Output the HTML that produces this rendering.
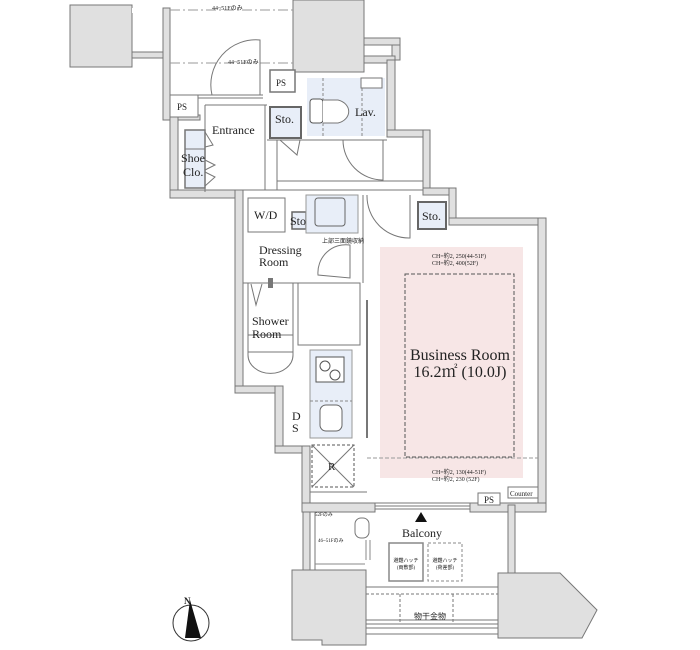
<!DOCTYPE html>
<html><head><meta charset="utf-8"><style>
html,body{margin:0;padding:0;background:#fff;}
svg{display:block;}
text{font-family:"Liberation Serif","Noto Serif CJK SC",serif;fill:#222;}
.s{font-family:"Liberation Serif","Noto Sans CJK JP",serif;}
</style></head><body>
<svg width="700" height="650" viewBox="0 0 700 650" xmlns="http://www.w3.org/2000/svg">
<g fill="#e0e0e0" stroke="#777" stroke-width="1">
<!-- top-left block -->
<rect x="70" y="5" width="62" height="62"/>
<rect x="132" y="52" width="31" height="6"/>
<rect x="132" y="8" width="38" height="5" fill="#fff" stroke="none"/>
<rect x="163" y="8" width="7" height="112"/>
<rect x="170" y="115" width="30" height="5"/>
<!-- left wall -->
<rect x="170" y="115" width="8" height="77"/>
<rect x="170" y="190" width="73" height="8"/>
<rect x="235" y="190" width="8" height="203"/>
<rect x="235" y="386" width="48" height="7"/>
<rect x="275" y="386" width="8" height="67"/>
<rect x="275" y="446" width="35" height="7"/>
<rect x="302" y="446" width="8" height="66"/>
<!-- top middle column -->
<rect x="293" y="0" width="71" height="72"/>
<rect x="364" y="38" width="36" height="7"/>
<rect x="392" y="45" width="8" height="15"/>
<rect x="364" y="56" width="31" height="7"/>
<rect x="387" y="60" width="8" height="77"/>
<rect x="387" y="130" width="43" height="7"/>
<rect x="423" y="130" width="7" height="65"/>
<rect x="423" y="188" width="33" height="7"/>
<rect x="449" y="188" width="7" height="37"/>
<rect x="449" y="218" width="96" height="7"/>
<rect x="538" y="218" width="8" height="294"/>
<!-- bottom wall -->
<rect x="302" y="503" width="73" height="9"/>
<rect x="470" y="503" width="76" height="9"/>
<!-- balcony -->
<rect x="303" y="512" width="7" height="60"/>
<rect x="508" y="505" width="7" height="70"/>
<rect x="310" y="512" width="5" height="60" fill="#fff"/>
<!-- bottom blocks -->
<path d="M292 570 H366 V645 H322 V640 H292 Z"/>
<path d="M498 573 H560 L597 610 L582 638 H498 Z"/>
</g>
<!-- window bottom -->
<rect x="375" y="503" width="95" height="6" fill="#fff" stroke="#777"/>
<line x1="375" y1="506" x2="470" y2="506" stroke="#777"/>
<!-- dashed top lines -->
<g stroke="#999" stroke-width="1" stroke-dasharray="10,3,2,3" fill="none">
<line x1="170" y1="10" x2="293" y2="10"/>
<line x1="170" y1="63" x2="293" y2="63"/>
</g>
<text x="212" y="10" font-size="6" class="s">44~51Fのみ</text>
<text x="228" y="64" font-size="6" class="s">44~51Fのみ</text>
<!-- entrance door -->
<path d="M212 95 A45 45 0 0 1 260 40 V95" fill="none" stroke="#777"/>
<line x1="178" y1="95" x2="263" y2="95" stroke="#777"/>
<line x1="178" y1="98" x2="263" y2="98" stroke="#777"/>
<rect x="270" y="70" width="25" height="22" fill="#fff" stroke="#777" stroke-width="1.5"/>
<text x="276" y="86" font-size="9">PS</text>
<rect x="170" y="95" width="28" height="22" fill="#fff" stroke="#777"/>
<text x="177" y="110" font-size="9">PS</text>
<!-- interior lines -->
<g stroke="#777" fill="none">
<line x1="205" y1="105" x2="205" y2="192"/>
<line x1="205" y1="105" x2="267" y2="105"/>
<line x1="265" y1="105" x2="265" y2="190"/>
<line x1="277" y1="140" x2="277" y2="190"/>
<line x1="267" y1="140" x2="387" y2="140"/>
<line x1="243" y1="190" x2="423" y2="190"/>
<line x1="277" y1="181" x2="423" y2="181"/>
<path d="M343 140 A40 40 0 0 0 383 180 V140"/>
<path d="M280 140 L297 155 L300 140"/>
<path d="M367 195 A42 42 0 0 0 410 238 V195"/>
<line x1="363" y1="195" x2="363" y2="283"/>
<line x1="243" y1="283" x2="298" y2="283"/>
<path d="M318 275 A28 28 0 0 1 350 245 V278 Z"/>
</g>
<!-- shoe closet -->
<rect x="185" y="130" width="20" height="58" fill="#e8eef8" stroke="#777" stroke-width="1.5"/>
<line x1="185" y1="149" x2="205" y2="149" stroke="#777"/>
<path d="M205 132 L213 145 L205 147 M205 160 L215 165 L205 170 M205 172 L215 177 L205 186" fill="none" stroke="#777"/>
<text x="181" y="162" font-size="12">Shoe</text>
<text x="183" y="176" font-size="12">Clo.</text>
<text x="212" y="134" font-size="12">Entrance</text>
<!-- sto -->
<rect x="270" y="107" width="31" height="31" fill="#e8eef8" stroke="#666" stroke-width="2"/>
<text x="275" y="123" font-size="12">Sto.</text>
<!-- lav -->
<rect x="307" y="78" width="78" height="58" fill="#e8eef8"/>
<line x1="323" y1="78" x2="323" y2="136" stroke="#888" stroke-dasharray="3,2"/>
<line x1="362" y1="78" x2="362" y2="136" stroke="#888" stroke-dasharray="3,2"/>
<rect x="361" y="78" width="21" height="10" fill="#fff" stroke="#777"/>
<rect x="310" y="99" width="13" height="24" rx="3" fill="#fff" stroke="#555"/>
<path d="M323 100 H338 A15 12 0 0 1 338 123 H323" fill="#fff" stroke="#777"/>
<text x="355" y="116" font-size="12">Lav.</text>
<!-- W/D -->
<rect x="248" y="198" width="37" height="34" fill="#fff" stroke="#777"/>
<text x="254" y="219" font-size="12">W/D</text>
<rect x="292" y="212" width="14" height="17" fill="#e8eef8" stroke="#666" stroke-width="1.5"/>
<text x="290" y="225" font-size="12">Sto.</text>
<rect x="306" y="195" width="52" height="38" fill="#e8eef8" stroke="#999"/>
<rect x="315" y="198" width="30" height="28" rx="3" fill="#e8eef8" stroke="#666"/>
<text x="322" y="243" font-size="6" class="s">上部三面鏡収納</text>
<rect x="418" y="202" width="28" height="27" fill="#e8eef8" stroke="#666" stroke-width="2"/>
<text x="422" y="220" font-size="12">Sto.</text>
<text x="259" y="254" font-size="12">Dressing</text>
<text x="259" y="266" font-size="12">Room</text>
<!-- shower -->
<rect x="248" y="283" width="45" height="52" fill="#fff" stroke="#777"/>
<path d="M248 355 V335 M293 355 V335 M248 355 A22 18 0 0 0 293 355" fill="none" stroke="#777"/>
<line x1="248" y1="352" x2="293" y2="352" stroke="#777"/>
<path d="M251 284 L256 305 L262 284" fill="none" stroke="#777"/>
<rect x="268" y="278" width="5" height="10" fill="#777"/>
<text x="252" y="325" font-size="12">Shower</text>
<text x="252" y="338" font-size="12">Room</text>
<rect x="298" y="283" width="62" height="62" fill="#fff" stroke="#777"/>
<!-- kitchen -->
<rect x="310" y="350" width="42" height="88" fill="#e8eef8" stroke="#999"/>
<rect x="316" y="357" width="28" height="25" fill="#fff" stroke="#555"/>
<circle cx="325" cy="366" r="5" fill="none" stroke="#555"/>
<circle cx="335" cy="375" r="5" fill="none" stroke="#555"/>
<line x1="310" y1="401" x2="352" y2="401" stroke="#888" stroke-dasharray="3,2"/>
<rect x="320" y="405" width="22" height="26" rx="6" fill="#fff" stroke="#666"/>
<line x1="367" y1="300" x2="367" y2="438" stroke="#777" stroke-width="2"/>
<text x="292" y="420" font-size="12">D</text>
<text x="292" y="432" font-size="12">S</text>
<!-- R -->
<rect x="312" y="445" width="42" height="42" fill="#fff" stroke="#555" stroke-dasharray="3,2"/>
<path d="M312 445 L354 487 M354 445 L312 487" stroke="#777"/>
<text x="328" y="470" font-size="11">R</text>
<line x1="310" y1="492" x2="367" y2="492" stroke="#777"/>
<!-- business room -->
<rect x="380" y="247" width="143" height="231" fill="#f7e6e6"/>
<rect x="405" y="274" width="109" height="183" fill="none" stroke="#555" stroke-dasharray="4,2"/>
<line x1="367" y1="458" x2="538" y2="458" stroke="#999" stroke-dasharray="4,2"/>
<text x="432" y="258" font-size="6" class="s">CH=約2, 250(44-51F)</text>
<text x="432" y="265" font-size="6" class="s">CH=約2, 400(52F)</text>
<text x="460" y="360" font-size="16" text-anchor="middle">Business Room</text>
<text x="460" y="377" font-size="16" text-anchor="middle">16.2㎡ (10.0J)</text>
<text x="432" y="474" font-size="6" class="s">CH=約2, 130(44-51F)</text>
<text x="432" y="481" font-size="6" class="s">CH=約2, 230 (52F)</text>
<rect x="478" y="493" width="22" height="12" fill="#fff" stroke="#777"/>
<text x="484" y="503" font-size="9">PS</text>
<rect x="508" y="487" width="30" height="11" fill="#fff" stroke="#777"/>
<text x="510" y="496" font-size="7">Counter</text>
<!-- balcony -->
<path d="M421 512 L427 522 H415 Z" fill="#111"/>
<rect x="355" y="518" width="14" height="20" rx="6" fill="#fff" stroke="#777"/>
<path d="M366 540 V560 M370 540 V560 M315 564 H365" fill="none" stroke="#888"/>
<text x="315" y="516" font-size="5" class="s">52Fのみ</text>
<text x="318" y="542" font-size="5" class="s">46~51Fのみ</text>
<text x="402" y="537" font-size="12">Balcony</text>
<rect x="389" y="543" width="34" height="38" fill="#fff" stroke="#888" stroke-width="1.5"/>
<rect x="428" y="543" width="34" height="38" fill="#fff" stroke="#888" stroke-dasharray="3,2"/>
<text x="406" y="562" font-size="5" text-anchor="middle" class="s">避難ハッチ</text>
<text x="406" y="569" font-size="5" text-anchor="middle" class="s">(両敷部)</text>
<text x="445" y="562" font-size="5" text-anchor="middle" class="s">避難ハッチ</text>
<text x="445" y="569" font-size="5" text-anchor="middle" class="s">(荷差部)</text>
<line x1="366" y1="587" x2="498" y2="587" stroke="#777"/>
<line x1="366" y1="594" x2="498" y2="594" stroke="#777" stroke-dasharray="3,2"/>
<line x1="366" y1="620" x2="498" y2="620" stroke="#777"/>
<rect x="366" y="624" width="132" height="4" fill="#fff" stroke="#777"/>
<line x1="366" y1="634" x2="498" y2="634" stroke="#777"/>
<line x1="400" y1="594" x2="400" y2="624" stroke="#777" stroke-dasharray="3,2"/>
<line x1="453" y1="594" x2="453" y2="624" stroke="#777" stroke-dasharray="3,2"/>
<text x="414" y="619" font-size="8" class="s">物干金物</text>
<!-- north -->
<circle cx="191" cy="623" r="18" fill="#fff" stroke="#333"/>
<path d="M190 600 L201 638 L185 638 Z" fill="#111"/>
<text x="184" y="604" font-size="9" font-weight="bold">N</text>
</svg>
</body></html>
